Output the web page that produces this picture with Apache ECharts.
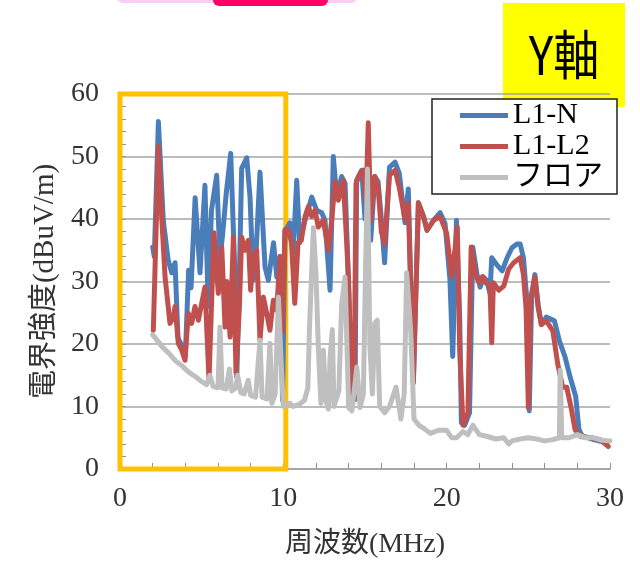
<!DOCTYPE html>
<html><head><meta charset="utf-8">
<script src="https://cdn.jsdelivr.net/npm/echarts@6/dist/echarts.min.js"></script>
<style>html,body{margin:0;padding:0;background:#fff}#c{width:640px;height:573px}</style>
</head><body><div id="c"></div>
<script>
// [frequency MHz, field strength dBuV/m]
const l1nData = [[2.0,35.5],[2.1,34],[2.35,55.6],[2.65,39.8],[2.95,33.4],[3.17,31.4],[3.37,33],[3.55,21],[3.7,20.2],[4.0,18],[4.2,31.8],[4.35,29],[4.6,43.4],[4.9,31.4],[5.2,45.4],[5.4,26],[5.6,41.4],[5.92,47],[6.12,33.4],[6.3,38],[6.5,44],[6.78,50.5],[7.04,30.7],[7.15,14.7],[7.3,30],[7.45,48.1],[7.76,49.8],[7.96,43.5],[8.16,30.2],[8.3,33],[8.57,47.5],[8.88,32.3],[9.08,30.2],[9.4,36.2],[9.6,30.7],[9.8,34],[9.95,11],[10.1,38],[10.4,39.4],[10.6,34.6],[10.82,46.2],[11.0,36.2],[11.33,39.8],[11.74,43.5],[12.04,41.4],[12.35,41],[12.55,39.8],[12.86,28.6],[13.06,50],[13.27,43.5],[13.57,46.8],[13.78,45.7],[13.98,30.7],[14.19,13.2],[14.39,11.1],[14.49,46.2],[14.8,47.8],[15.0,40],[15.2,46],[15.35,36.6],[15.6,46.8],[15.8,46],[16.0,40],[16.2,33],[16.5,48.3],[16.84,49.1],[17.1,47.3],[17.45,39.4],[17.65,44.8],[17.96,13.8],[18.27,42.6],[18.58,40.4],[18.8,38.2],[19.2,39.8],[19.6,41],[19.9,39.3],[20.2,30.3],[20.37,18],[20.6,39.8],[20.8,24.1],[20.9,7.4],[21.1,7],[21.4,9],[21.6,35.5],[21.85,31.2],[22.05,29.1],[22.25,30.7],[22.45,30.2],[22.65,28.1],[22.76,33.8],[23.06,32.7],[23.4,31.7],[23.7,33.8],[24.0,35.4],[24.3,36],[24.5,36],[24.7,33.8],[24.9,27.4],[25.06,9.3],[25.2,27.4],[25.4,31.1],[25.6,26.3],[25.8,23.1],[26.1,24.3],[26.6,23.7],[26.9,20.5],[27.25,17.9],[27.55,14.8],[27.9,11.6],[28.1,6.3],[28.3,5.3],[29.0,4.7],[29.8,4.2]];
const l1l2Data = [[2.04,22.2],[2.35,51.6],[2.55,40.4],[2.76,30.7],[3.06,23.3],[3.27,24.3],[3.37,26],[3.57,20.1],[3.78,19],[3.98,17.4],[4.18,24.9],[4.39,23.3],[4.59,26],[4.8,23.8],[5.0,26.5],[5.2,29.1],[5.45,14.2],[5.75,37.8],[6.02,28.1],[6.23,35.5],[6.43,22.7],[6.55,30],[6.74,21.1],[6.94,37.1],[7.1,15.4],[7.3,25.4],[7.45,37.1],[7.65,35],[7.86,36.6],[8.0,28.6],[8.16,34],[8.37,35],[8.57,20.6],[8.78,27.5],[8.98,24.9],[9.18,22.2],[9.39,27],[9.59,25.4],[9.8,34],[9.95,22],[10.1,38.3],[10.3,38.3],[10.5,36.2],[10.7,26.5],[10.9,36.2],[11.1,36.6],[11.33,40.4],[11.53,42],[11.74,40.4],[11.94,41.4],[12.14,38.7],[12.45,39.8],[12.76,35],[12.96,39.8],[13.17,46],[13.37,43],[13.67,46.2],[13.88,36.2],[13.98,30.7],[14.19,12.1],[14.33,11.6],[14.45,45.7],[14.7,47.3],[14.9,47.8],[15.06,42.5],[15.2,55.4],[15.35,39.8],[15.6,46.8],[15.8,45.2],[16.0,38],[16.2,36],[16.5,47],[16.84,47.8],[17.1,45],[17.45,40],[17.65,42.5],[17.96,13.8],[18.27,42.6],[18.58,40.4],[18.8,38.2],[19.2,39.8],[19.6,40.4],[20.0,37.7],[20.3,30.8],[20.5,35],[20.65,38.7],[20.8,18.9],[21.0,7],[21.3,9],[21.5,35.5],[21.8,30.8],[22.0,29.8],[22.2,30.8],[22.4,29.8],[22.65,29.3],[22.76,20.2],[22.86,29.8],[23.2,28.6],[23.5,29.3],[23.8,32],[24.1,33],[24.5,33.8],[24.7,31.1],[24.86,25.7],[25.0,9.8],[25.15,27.4],[25.4,30.7],[25.6,25.8],[25.8,23.1],[26.1,23.7],[26.5,22.1],[26.8,16.8],[27.1,13.1],[27.35,13.1],[27.65,9.4],[27.86,6.3],[28.2,5.2],[28.8,5],[29.4,4.7],[29.9,3.6]];
const floorData = [[2.0,21.5],[2.3,20.5],[2.6,19.5],[3.0,18.5],[3.4,17.3],[3.8,16.5],[4.2,15.5],[4.6,14.8],[5.0,14],[5.3,13.5],[5.5,15],[5.7,13.2],[6.0,13],[6.12,22.7],[6.25,13],[6.5,12.8],[6.7,16],[6.85,12.5],[7.1,13],[7.2,15],[7.4,12.2],[7.6,12],[7.85,14.2],[8.0,11.8],[8.3,11.5],[8.57,20.6],[8.7,11.5],[9.0,11.2],[9.18,20.1],[9.3,10.5],[9.5,12],[9.7,27.5],[9.85,18],[10.0,10],[10.4,10.5],[10.6,10],[11.0,10.4],[11.3,11],[11.5,13],[11.6,22.5],[11.84,38.6],[12.0,31],[12.14,19.7],[12.3,10.5],[12.45,19],[12.6,11],[12.76,9.6],[12.86,17.7],[13.0,22.3],[13.1,10],[13.4,12.5],[13.57,26.4],[13.78,30.7],[14.0,9.8],[14.2,9.3],[14.5,16.3],[14.7,9.8],[14.9,12],[15.0,27.2],[15.15,48],[15.3,19.7],[15.45,12],[15.6,23.3],[15.75,23.8],[15.9,10],[16.2,9],[16.5,10],[16.9,13.1],[17.2,8],[17.4,12],[17.55,31.4],[17.8,22],[18.0,8],[18.3,7],[18.6,6.5],[19.0,5.7],[19.5,6.2],[20.0,6.2],[20.3,5],[20.6,5],[21.0,6],[21.3,5.5],[21.6,7],[22.0,5.5],[22.5,5.2],[23.0,4.8],[23.5,5],[23.8,4],[24.0,4.5],[24.5,4.8],[25.0,5],[25.5,4.8],[26.0,4.5],[26.5,4.7],[26.9,5],[26.95,15.8],[27.05,5],[27.5,5],[28.0,5.5],[28.5,5],[29.0,5],[29.5,4.6],[30.0,4.5]];
const seriesNames = ['L1-N', 'L1-L2', 'フロア'];
const seriesColors = ['#4a7ebb', '#c0504d', '#bfbfbf'];
const highlightBox = [[0, 0], [10.15, 60.3]];

const serif = "'Liberation Serif','Noto Sans CJK JP',serif";
const chart = echarts.init(document.getElementById('c'));
function lineSeries(i, data) {
  return {
    type: 'line', name: seriesNames[i], data: data, showSymbol: false, symbol: 'none',
    lineStyle: { width: 5, color: seriesColors[i], cap: 'round', join: 'round' },
    itemStyle: { color: seriesColors[i] }, silent: true
  };
}
chart.setOption({
  animation: false,
  grid: { left: 120, right: 30, top: 94, bottom: 104 },
  graphic: [
    { type: 'rect', shape: { x: 117, y: -10, width: 240, height: 13, r: 6 }, style: { fill: '#f9cdf4' } },
    { type: 'rect', shape: { x: 213, y: -10, width: 115, height: 16, r: 6 }, style: { fill: '#ff0066' } },
    { type: 'rect', shape: { x: 503, y: 3, width: 122, height: 104 }, style: { fill: '#ffff00' } },
    { type: 'text', x: 564, y: 55, scaleY: 1.15, style: { text: 'Y軸', fontSize: 46, fontFamily: "'Noto Sans CJK JP'", fill: '#000', align: 'center', verticalAlign: 'middle' } }
  ],
  legend: {
    data: seriesNames, orient: 'vertical', left: 432, top: 99,
    padding: [1, 14, 1, 28], itemGap: 0, itemWidth: 48, itemHeight: 5, icon: 'rect',
    borderColor: '#222', borderWidth: 1.5, backgroundColor: '#fff',
    textStyle: { fontFamily: serif, fontSize: 30, color: '#000', lineHeight: 31 }
  },
  xAxis: {
    type: 'value', min: 0, max: 30, interval: 10,
    axisLine: { lineStyle: { color: '#a0a0a0', width: 1.5 } },
    axisTick: { show: true, inside: true, length: 6, lineStyle: { color: '#909090' } },
    minorTick: { show: true, splitNumber: 5, length: 6, lineStyle: { color: '#909090' } },
    splitLine: { show: false },
    axisLabel: { margin: 16, fontSize: 28, fontFamily: serif, color: '#333' },
    name: '周波数(MHz)', nameLocation: 'middle', nameGap: 62,
    nameTextStyle: { fontSize: 28, fontFamily: serif, color: '#333' }
  },
  yAxis: {
    type: 'value', min: 0, max: 60, interval: 10,
    axisLine: { show: true, lineStyle: { color: '#a0a0a0', width: 1.5 } },
    axisTick: { show: true, inside: true, length: 6, lineStyle: { color: '#909090' } },
    minorTick: { show: true, splitNumber: 5, length: 6, lineStyle: { color: '#909090' } },
    splitLine: { lineStyle: { color: '#a6a6a6', width: 1.5 } },
    axisLabel: { margin: 21, fontSize: 28, fontFamily: serif, color: '#333' },
    name: '電界強度(dBuV/m)', nameLocation: 'middle', nameGap: 60,
    nameTextStyle: { fontSize: 29, fontFamily: serif, color: '#333' }
  },
  series: [
    lineSeries(0, l1nData),
    lineSeries(1, l1l2Data),
    lineSeries(2, floorData),
    {
      type: 'line', name: 'box', data: [], silent: true, clip: false, z: 10,
      markArea: {
        silent: true,
        itemStyle: { color: 'rgba(0,0,0,0)', borderColor: '#ffc000', borderWidth: 5 },
        data: [[{ coord: highlightBox[0] }, { coord: highlightBox[1] }]]
      }
    }
  ]
});
</script></body></html>
